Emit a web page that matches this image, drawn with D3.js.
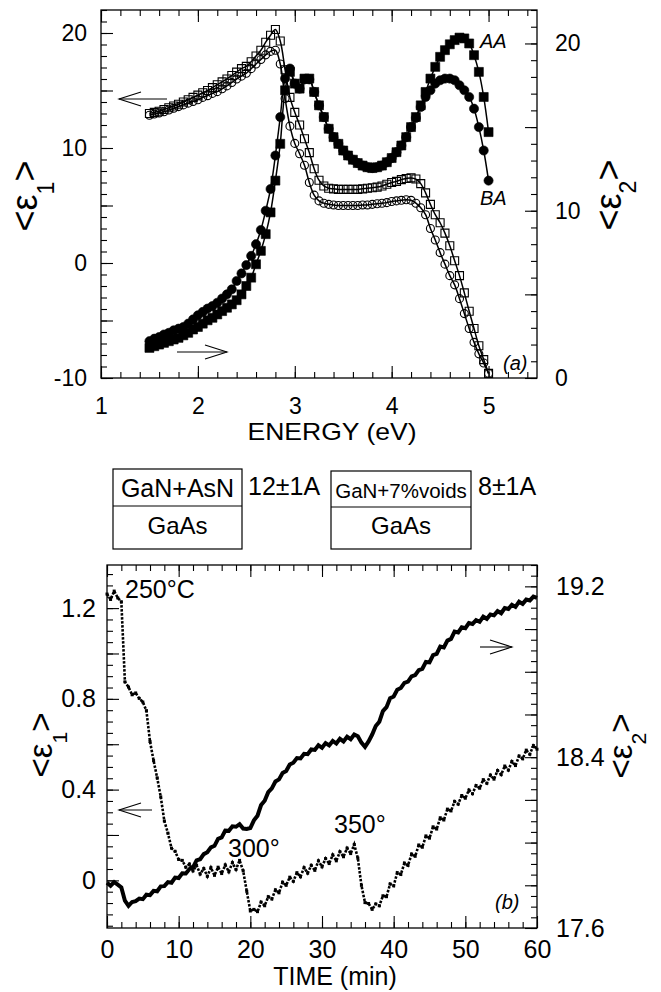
<!DOCTYPE html>
<html><head><meta charset="utf-8">
<script src="https://cdn.jsdelivr.net/npm/d3@7"></script>
<style>
body{margin:0;background:#fff}
svg{display:block}
text{font-family:"Liberation Sans",Arial,Helvetica,sans-serif;fill:#000}
</style>
</head><body>
<svg id="c" width="661" height="992"></svg>
<script>
// ---------------- DATA (panel a) ----------------
const energy = [1.50,1.55,1.60,1.65,1.70,1.75,1.80,1.85,1.90,1.95,2.00,2.05,2.10,2.15,2.20,2.25,2.30,2.35,2.40,2.45,2.50,2.55,2.60,2.65,2.70,2.75,2.80,2.85,2.90,2.95,3.00,3.05,3.10,3.15,3.20,3.25,3.30,3.35,3.40,3.45,3.50,3.55,3.60,3.65,3.70,3.75,3.80,3.85,3.90,3.95,4.00,4.05,4.10,4.15,4.20,4.25,4.30,4.35,4.40,4.45,4.50,4.55,4.60,4.65,4.70,4.75,4.80,4.85,4.90,4.95,5.00];
// <eps1> open squares (AA)
const eps1AA = [13.0,13.1,13.2,13.35,13.5,13.65,13.8,14.0,14.2,14.4,14.6,14.8,15.0,15.25,15.5,15.75,16.0,16.3,16.6,16.9,17.1,17.5,18.0,18.5,19.2,19.8,20.3,19.3,16.8,14.4,13.1,12.0,10.8,9.6,8.2,7.2,6.7,6.5,6.45,6.4,6.4,6.4,6.4,6.4,6.45,6.5,6.55,6.6,6.7,6.85,7.0,7.1,7.25,7.35,7.4,7.3,6.9,6.1,5.1,4.2,3.5,2.6,1.5,0.2,-1.1,-2.6,-4.2,-5.7,-7.2,-8.4,-9.6];
// <eps1> open circles (BA)
const eps1BA = [12.85,12.95,13.05,13.15,13.3,13.45,13.6,13.75,13.9,14.05,14.2,14.4,14.55,14.75,14.9,15.15,15.4,15.7,16.0,16.25,16.5,16.9,17.3,17.7,18.1,18.4,18.5,17.3,14.3,11.9,10.4,9.5,8.5,7.0,5.9,5.4,5.2,5.1,5.05,5.0,5.0,5.0,5.0,5.0,5.05,5.05,5.1,5.15,5.2,5.25,5.35,5.4,5.45,5.5,5.45,5.2,4.8,4.2,3.0,2.0,0.9,-0.1,-1.1,-1.9,-3.1,-4.4,-5.7,-6.9,-7.9,-8.7,-9.6];
// <eps2> filled squares (AA)
const eps2AA = [1.8,1.9,2.0,2.1,2.2,2.3,2.4,2.55,2.7,2.9,3.05,3.25,3.45,3.6,3.8,4.0,4.2,4.4,4.65,5.0,5.5,6.0,6.8,7.6,8.6,9.9,11.8,14.0,17.2,18.3,17.6,17.3,17.9,17.9,17.1,16.3,15.6,14.9,14.4,14.0,13.6,13.3,13.05,12.85,12.7,12.6,12.55,12.6,12.7,12.9,13.15,13.5,13.9,14.4,15.0,15.6,16.3,17.1,17.9,18.6,19.2,19.6,19.95,20.2,20.35,20.3,20.0,19.3,18.3,16.8,14.7];
// <eps2> filled circles (BA)
const eps2BA = [2.2,2.35,2.45,2.6,2.7,2.85,2.95,3.05,3.25,3.5,3.75,3.95,4.15,4.3,4.5,4.75,5.0,5.3,5.8,6.25,6.75,7.3,8.0,8.85,10.0,11.3,13.3,15.6,17.9,18.5,17.6,17.3,17.85,17.85,17.1,16.3,15.6,14.9,14.4,14.0,13.6,13.3,13.05,12.85,12.7,12.6,12.55,12.6,12.7,12.9,13.15,13.5,13.9,14.4,15.0,15.55,16.2,16.8,17.2,17.6,17.8,17.9,17.9,17.8,17.5,17.2,16.8,16.1,15.0,13.6,11.8];

const energyMajorTicks = [1,2,3,4,5];
const eps1MajorTicksA = [-10,-5,0,5,10,15,20];
const eps1LabelsA = [-10,0,10,20];
const eps2MajorTicksA = [0,5,10,15,20];
const eps2LabelsA = [0,10,20];

// ---------------- DATA (panel b) ----------------
const timeMin = [0,0.5,1,1.5,2,2.5,3,3.5,4,4.5,5,5.5,6,6.5,7,7.5,8,8.5,9,9.5,10,10.5,11,11.5,12,12.5,13,13.5,14,14.5,15,15.5,16,16.5,17,17.5,18,18.5,19,19.5,20,20.5,21,21.5,22,22.5,23,23.5,24,24.5,25,25.5,26,26.5,27,27.5,28,28.5,29,29.5,30,30.5,31,31.5,32,32.5,33,33.5,34,34.5,35,35.5,36,36.5,37,37.5,38,38.5,39,39.5,40,40.5,41,41.5,42,42.5,43,43.5,44,44.5,45,45.5,46,46.5,47,47.5,48,48.5,49,49.5,50,50.5,51,51.5,52,52.5,53,53.5,54,54.5,55,55.5,56,56.5,57,57.5,58,58.5,59,59.5,60];
const eps1Time = [1.262,1.238,1.275,1.245,1.228,0.875,0.852,0.818,0.826,0.802,0.786,0.748,0.612,0.528,0.452,0.368,0.262,0.208,0.142,0.128,0.092,0.088,0.058,0.072,0.042,0.066,0.028,0.052,0.018,0.056,0.022,0.058,0.030,0.068,0.038,0.078,0.048,0.088,0.042,-0.048,-0.135,-0.128,-0.138,-0.096,-0.112,-0.072,-0.082,-0.042,-0.055,-0.008,-0.022,0.014,-0.004,0.034,0.016,0.056,0.032,0.066,0.044,0.086,0.060,0.096,0.074,0.112,0.086,0.126,0.104,0.142,0.118,0.158,0.098,-0.022,-0.098,-0.102,-0.128,-0.104,-0.112,-0.068,-0.072,-0.016,-0.024,0.034,0.026,0.076,0.066,0.116,0.106,0.156,0.146,0.196,0.186,0.236,0.226,0.276,0.266,0.314,0.306,0.348,0.336,0.374,0.362,0.398,0.382,0.418,0.406,0.444,0.428,0.464,0.446,0.484,0.466,0.504,0.486,0.524,0.506,0.548,0.536,0.574,0.556,0.594,0.578];
const eps2Time = [17.812,17.798,17.815,17.803,17.790,17.728,17.704,17.722,17.726,17.738,17.735,17.756,17.754,17.774,17.772,17.795,17.796,17.815,17.812,17.836,17.834,17.856,17.855,17.876,17.884,17.917,17.922,17.946,17.955,17.978,17.985,18.018,18.024,18.056,18.055,18.076,18.074,18.086,18.066,18.064,18.068,18.104,18.126,18.176,18.196,18.236,18.254,18.286,18.296,18.326,18.335,18.366,18.374,18.396,18.394,18.416,18.414,18.436,18.434,18.456,18.444,18.466,18.455,18.476,18.464,18.486,18.474,18.496,18.484,18.506,18.498,18.468,18.448,18.474,18.506,18.546,18.566,18.616,18.634,18.676,18.684,18.716,18.724,18.748,18.754,18.778,18.784,18.808,18.814,18.846,18.844,18.878,18.884,18.918,18.914,18.946,18.954,18.988,18.984,19.008,19.004,19.028,19.024,19.042,19.034,19.058,19.048,19.068,19.064,19.084,19.074,19.098,19.094,19.114,19.104,19.128,19.118,19.138,19.134,19.152,19.146];

const timeMajorTicks = [0,10,20,30,40,50,60];
const eps1MajorTicksB = [0,0.2,0.4,0.6,0.8,1.0,1.2];
const eps1LabelsB = [0,0.4,0.8,1.2];
const eps2MajorTicksB = [17.6,17.8,18.0,18.2,18.4,18.6,18.8,19.0,19.2];
const eps2LabelsB = [17.6,18.4,19.2];

// ---------------- DRAW ----------------
const svg = d3.select('#c');
const FONT = 23;

function frame(x0,x1,y0,y1){
  svg.append('rect').attr('x',x0).attr('y',y0).attr('width',x1-x0).attr('height',y1-y0)
    .attr('fill','none').attr('stroke','#000').attr('stroke-width',1.3);
}
function axisG(axis, tx, ty, fontSize){
  const g = svg.append('g').attr('transform',`translate(${tx},${ty})`).call(axis);
  g.select('.domain').remove();
  g.selectAll('.tick line').attr('stroke','#000').attr('stroke-width',1.1);
  g.selectAll('text').attr('font-family',null).style('font-size',(fontSize||FONT)+'px').attr('fill','#000');
  return g;
}
function ticksSet(scale, orient, pos, major, minor, labels, fmt, pad, fs){
  const mk = {left:d3.axisLeft, right:d3.axisRight, top:d3.axisTop, bottom:d3.axisBottom}[orient];
  const horiz = (orient==='top'||orient==='bottom');
  const tx = horiz?0:pos, ty = horiz?pos:0;
  axisG(mk(scale).tickValues(minor).tickSize(-6).tickFormat(''), tx, ty);
  const a = mk(scale).tickValues(major).tickSize(-12).tickPadding(pad||8)
      .tickFormat(d => (labels && labels.some(l=>Math.abs(l-d)<1e-9)) ? fmt(d) : '');
  axisG(a, tx, ty, fs||FONT);
}

// ===== Panel (a) =====
const ax = d3.scaleLinear().domain([1,5.5]).range([101,537]);
const ayL = d3.scaleLinear().domain([-10,22]).range([378,10]);
const ayR = d3.scaleLinear().domain([0,22]).range([378,10]);

frame(101,537,10,378);
ticksSet(ax,'bottom',378,energyMajorTicks,ax.ticks(22),energyMajorTicks,d=>d3.format('d')(d),20);
ticksSet(ax,'top',10,energyMajorTicks,ax.ticks(22),[],d=>'');
ticksSet(ayL,'left',101,eps1MajorTicksA,ayL.ticks(32),eps1LabelsA,d=>String(d),14);
ticksSet(ayR,'right',537,eps2MajorTicksA,ayR.ticks(22),eps2LabelsA,d=>String(d),18);

const lineA1 = d3.line().x((d,i)=>ax(energy[i])).y(d=>ayL(d)).curve(d3.curveCatmullRom);
const lineA2 = d3.line().x((d,i)=>ax(energy[i])).y(d=>ayR(d)).curve(d3.curveCatmullRom);

const gA = svg.append('g');
function drawSeries(vals, yS, line, shape, filled, sz){
  gA.append('path').datum(vals).attr('d',line).attr('fill','none').attr('stroke','#000').attr('stroke-width',1.5);
  const sym = d3.symbol().type(shape==='sq'?d3.symbolSquare:d3.symbolCircle).size(sz);
  gA.selectAll(null).data(vals).enter().append('path')
    .attr('d',sym)
    .attr('transform',(d,i)=>`translate(${ax(energy[i])},${yS(d)})`)
    .attr('fill',filled?'#000':'none').attr('stroke','#000').attr('stroke-width',filled?0.6:1.1);
}
drawSeries(eps1BA, ayL, lineA1, 'ci', false, 50);
drawSeries(eps1AA, ayL, lineA1, 'sq', false, 64);
drawSeries(eps2BA, ayR, lineA2, 'ci', true, 66);
drawSeries(eps2AA, ayR, lineA2, 'sq', true, 81);

// arrows
function arrow(x0,y,x1){ // head at x1
  const dir = x1<x0 ? 1 : -1;
  const g = svg.append('g').attr('stroke','#000').attr('stroke-width',1.1).attr('fill','none');
  g.append('line').attr('x1',x0).attr('y1',y).attr('x2',x1).attr('y2',y);
  g.append('polyline').attr('points',`${x1+dir*22},${y-7} ${x1},${y} ${x1+dir*22},${y+7}`);
}
arrow(167,99,119);
arrow(177,352,227);

svg.append('text').attr('x',480).attr('y',48).style('font-size','20px').style('font-style','italic').text('AA');
svg.append('text').attr('x',480).attr('y',205).style('font-size','20px').style('font-style','italic').text('BA');
svg.append('text').attr('x',503).attr('y',370).style('font-size','20px').style('font-style','italic').text('(a)');

svg.append('text').attr('x',332).attr('y',440).attr('text-anchor','middle').style('font-size','24px').attr('textLength',169).attr('lengthAdjust','spacingAndGlyphs').text('ENERGY (eV)');

function yTitle(x,y,sub,fs,shift){
  const t = svg.append('text').attr('transform',`translate(${x},${y}) rotate(-90)`).attr('text-anchor','middle').style('font-size',fs+'px');
  t.append('tspan').text('<ε');
  t.append('tspan').attr('dy',shift).style('font-size',(fs*0.64)+'px').text(sub);
  t.append('tspan').attr('dy',-shift).text('>');
}
yTitle(37,196,'1',36,17);
yTitle(621,195,'2',36,15);

// ===== Middle boxes =====
function box(x0,x1,y0,ym,y1,topTxt,topFs,botTxt){
  const g = svg.append('g');
  g.append('rect').attr('x',x0).attr('y',y0).attr('width',x1-x0).attr('height',y1-y0).attr('fill','none').attr('stroke','#000').attr('stroke-width',1.2);
  g.append('line').attr('x1',x0).attr('x2',x1).attr('y1',ym).attr('y2',ym).attr('stroke','#000').attr('stroke-width',1.2);
  g.append('text').attr('x',(x0+x1)/2).attr('y',ym-9).attr('text-anchor','middle').style('font-size',topFs+'px').text(topTxt);
  g.append('text').attr('x',(x0+x1)/2).attr('y',y1-15).attr('text-anchor','middle').style('font-size','24px').text(botTxt);
}
box(113,242,469,506,549,'GaN+AsN',25,'GaAs');
box(331,471,471,507,549,'GaN+7%voids',20.5,'GaAs');
svg.append('text').attr('x',248).attr('y',495).style('font-size','25px').text('12±1A');
svg.append('text').attr('x',478).attr('y',495).style('font-size','25px').text('8±1A');

// ===== Panel (b) =====
const bx = d3.scaleLinear().domain([0,60]).range([107,537]);
const byL = d3.scaleLinear().domain([-0.21,1.39]).range([928,565]);
const byR = d3.scaleLinear().domain([17.6,19.3]).range([928,565]);

frame(107,537,565,928);
ticksSet(bx,'bottom',928,timeMajorTicks,bx.ticks(30),timeMajorTicks,d=>String(d),12,25);
ticksSet(bx,'top',565,timeMajorTicks,bx.ticks(30),[],d=>'');
ticksSet(byL,'left',107,eps1MajorTicksB,byL.ticks(32),eps1LabelsB,d=>d===0?'0':d3.format('.1f')(d),11,25);
ticksSet(byR,'right',537,eps2MajorTicksB,byR.ticks(34),eps2LabelsB,d=>d3.format('.1f')(d),19,25);

const gB = svg.append('g');
const lineB1 = d3.line().x((d,i)=>bx(timeMin[i])).y(d=>byL(d));
const lineB2 = d3.line().x((d,i)=>bx(timeMin[i])).y(d=>byR(d));
gB.append('path').datum(eps1Time).attr('d',lineB1).attr('fill','none').attr('stroke','#000').attr('stroke-width',2.6).attr('stroke-dasharray','2.5 1.5');
gB.selectAll(null).data(eps1Time).enter().append('rect')
  .attr('x',(d,i)=>bx(timeMin[i])-1.5).attr('y',d=>byL(d)-1.5).attr('width',3).attr('height',3).attr('fill','#000');
gB.append('path').datum(eps2Time).attr('d',lineB2).attr('fill','none').attr('stroke','#000').attr('stroke-width',4).attr('stroke-linejoin','miter');

arrow(152,810,119);
arrow(480,647,512);

svg.append('text').attr('x',125).attr('y',598).style('font-size','25px').text('250°C');
svg.append('text').attr('x',228).attr('y',857).style('font-size','25px').text('300°');
svg.append('text').attr('x',334).attr('y',833).style('font-size','25px').text('350°');
svg.append('text').attr('x',495).attr('y',909).style('font-size','20px').style('font-style','italic').text('(b)');

svg.append('text').attr('x',335).attr('y',985).attr('text-anchor','middle').style('font-size','25px').text('TIME (min)');
yTitle(52,745,'1',33,15);
yTitle(632,746,'2',33,14);
</script>
</body></html>
